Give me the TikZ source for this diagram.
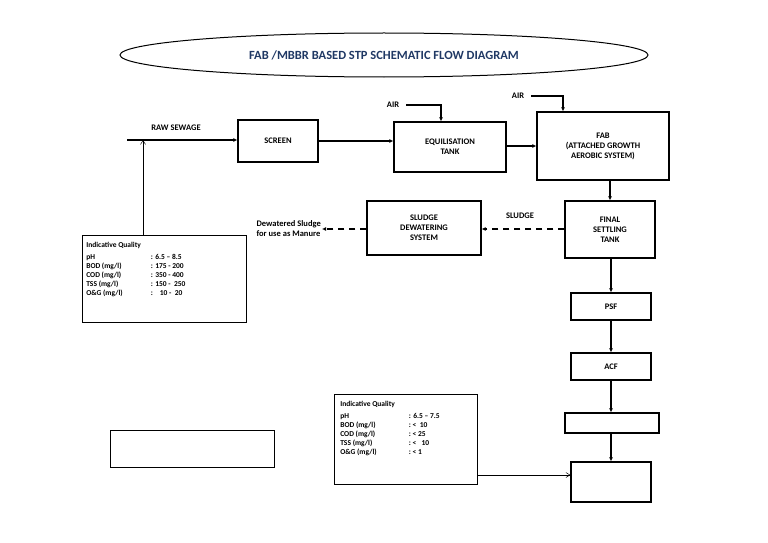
\documentclass[tikz,border=0pt]{standalone}
\usepackage{fontspec}
\setmainfont{Carlito}
\usetikzlibrary{arrows.meta,shapes.geometric}
\definecolor{titleblue}{HTML}{1F3864}
\begin{document}
\begin{tikzpicture}[x=1pt,y=-1pt,
  box/.style={draw, line width=1.3pt, inner sep=0pt, font=\fontsize{8.5}{10}\selectfont\bfseries, align=center},
  flow/.style={line width=1.2pt, -{Latex[length=4pt,width=4pt]}},
  thinarr/.style={line width=0.5pt, -{Straight Barb[length=4pt,width=5pt]}},
  dashflow/.style={line width=1.2pt, dash pattern=on 6pt off 5pt, -{Latex[length=4pt,width=4pt]}},
  lbl/.style={font=\fontsize{8.5}{10}\selectfont\bfseries, inner sep=1pt},
  qual/.style={draw, line width=0.6pt, inner sep=0pt, font=\fontsize{7.5}{10}\selectfont\bfseries}]
\useasboundingbox (0,0) rectangle (768,543);
% title
\node[draw, ellipse, line width=1pt, minimum width=528pt, minimum height=44pt, inner sep=0pt,
  font=\fontsize{12.5}{14}\selectfont\bfseries, text=titleblue] (title) at (384,55)
  {FAB /MBBR BASED STP SCHEMATIC FLOW DIAGRAM};
% process boxes
\node[box, minimum width=80pt, minimum height=42pt] (scr) at (278,141) {SCREEN};
\node[box, minimum width=112pt, minimum height=50pt] (eq) at (450,147) {EQUILISATION\\TANK};
\node[box, minimum width=132pt, minimum height=68pt] (fab) at (603,146) {FAB\\(ATTACHED GROWTH\\AEROBIC SYSTEM)};
\node[box, minimum width=90pt, minimum height=57pt] (fst) at (610,229.5) {FINAL\\SETTLING\\TANK};
\node[box, minimum width=114pt, minimum height=54pt] (sds) at (424,228) {SLUDGE\\DEWATERING\\SYSTEM};
\node[box, minimum width=80pt, minimum height=27pt] (psf) at (611,306.5) {PSF};
\node[box, minimum width=80pt, minimum height=27pt] (acf) at (611,366.5) {ACF};
\node[box, minimum width=94pt, minimum height=20pt] (b1) at (612,423) {};
\node[box, minimum width=80pt, minimum height=40pt] (b2) at (611,482) {};
\node[draw, line width=0.6pt, minimum width=164pt, minimum height=37pt] (lb) at (192,448.5) {};
% quality boxes
\node[qual, minimum width=164pt, minimum height=87pt] (q1) at (164,278.5) {};
\node[qual, anchor=north west, draw=none, inner sep=0pt] at (86,240) {%
  \begin{tabular}{@{}l@{\hspace{10pt}}l@{}}
  Indicative Quality & \\[2pt]
  pH & : 6.5 -- 8.5\\[-1pt]
  BOD (mg/l) & : 175 - 200\\[-1pt]
  COD (mg/l) & : 350 - 400\\[-1pt]
  TSS (mg/l) & : 150 -\ \ 250\\[-1pt]
  O\&G (mg/l) & :\ \ \ \ 10 -\ \ 20
  \end{tabular}};
\node[qual, minimum width=143pt, minimum height=90pt] (q2) at (405.5,439) {};
\node[qual, anchor=north west, draw=none, inner sep=0pt] at (340,399) {%
  \begin{tabular}{@{}l@{\hspace{14pt}}l@{}}
  Indicative Quality & \\[2pt]
  pH & : 6.5 -- 7.5\\[-1pt]
  BOD (mg/l) & :\ <\ \ 10\\[-1pt]
  COD (mg/l) & :\ < 25\\[-1pt]
  TSS (mg/l) & :\ <\ \ \ 10\\[-1pt]
  O\&G (mg/l) & :\ < 1
  \end{tabular}};
% inlet
\coordinate (in) at (127,140);
\coordinate (qj) at (143,140);
\draw[flow] (in) -- (scr.west |- in);
\node[lbl] (raw) at (176,128) {RAW SEWAGE};
\draw[thinarr] (q1.north -| qj) -- (qj);
% main flow
\draw[flow] (scr.east) -- (eq.west |- scr.east);
\draw[flow] (eq.east |- 0,146) -- (fab.west |- 0,146);
\draw[flow] (fab.south -| fst) -- (fst.north);
\draw[flow] (fst.south -| psf) -- (psf.north);
\draw[flow] (psf.south) -- (acf.north);
\draw[flow] (acf.south) -- (b1.north -| acf);
\draw[flow] (b1.south -| acf) -- (b2.north);
\draw[thinarr] (q2.east |- 0,475) -- (b2.west |- 0,475);
% air
\node[lbl] (air1) at (393,105) {AIR};
\coordinate (a1) at (441,105);
\draw[flow] (air1.east) ++(6,0) -- (a1) -- (a1 |- eq.north);
\node[lbl] (air2) at (518,96) {AIR};
\coordinate (a2) at (563,96);
\draw[flow] (air2.east) ++(6,0) -- (a2) -- (a2 |- fab.north);
% sludge
\draw[dashflow] (fst.west |- 0,229) -- (sds.east |- 0,229);
\node[lbl] (sl) at (520,216) {SLUDGE};
\node[lbl, anchor=east, align=left] (dw) at (322,229) {Dewatered Sludge\\for use as Manure};
\draw[dashflow] (sds.west |- 0,229) -- (dw.east |- 0,229);
\end{tikzpicture}
\end{document}
